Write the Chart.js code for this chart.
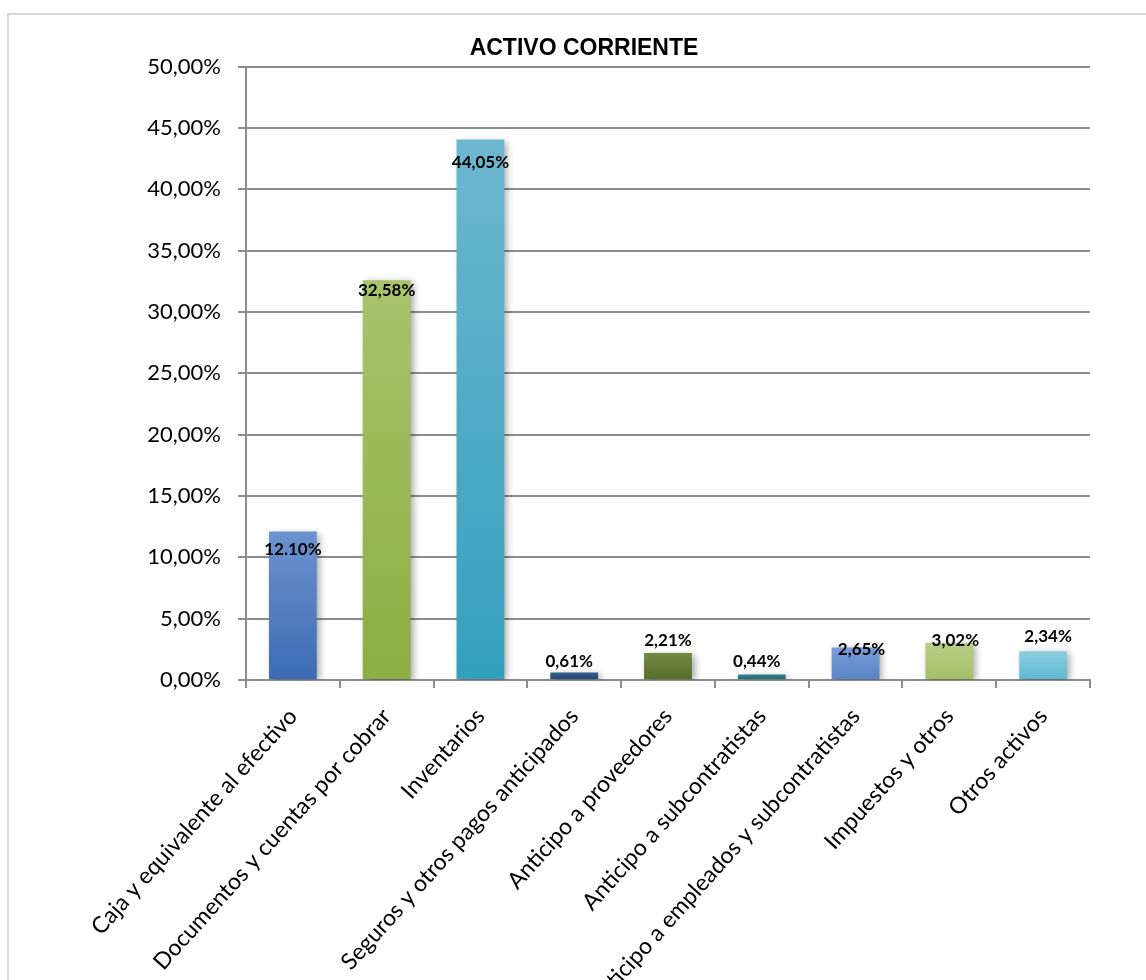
<!DOCTYPE html>
<html lang="es">
<head>
  <meta charset="UTF-8">
  <title>Activo corriente</title>
  <script src="https://cdn.jsdelivr.net/npm/chart.js"></script>
  <style>
    body {
      margin: 0;
      background: #fff;
    }
    #chartContainer {
      width: 1146px;
      height: 980px;
    }
  </style>
</head>
<body>

  <div id="chartContainer">
    <canvas id="barChart"></canvas>
  </div>

  <script>
    const categories = [
      'Caja y equivalente al efectivo',
      'Documentos y cuentas por cobrar',
      'Inventarios',
      'Seguros y otros pagos anticipados',
      'Anticipo a proveedores',
      'Anticipo a subcontratistas',
      'Anticipo a empleados y subcontratistas',
      'Impuestos y otros',
      'Otros activos'
    ];
    const values = [12.10, 32.58, 44.05, 0.61, 2.21, 0.44, 2.65, 3.02, 2.34];
    const valueLabels = ['12.10%', '32,58%', '44,05%', '0,61%', '2,21%', '0,44%', '2,65%', '3,02%', '2,34%'];
    const yTicks = [0, 5, 10, 15, 20, 25, 30, 35, 40, 45, 50];

    // colores de cada barra: [arriba, abajo]
    const barColors = [
      ['#6d92cf', '#3c6bb3'],
      ['#a8c36c', '#8cae42'],
      ['#6db7cf', '#34a0bd'],
      ['#335f92', '#254770'],
      ['#728a40', '#546c25'],
      ['#2f808e', '#226874'],
      ['#779cd6', '#5b84c6'],
      ['#b7ce85', '#a5c069'],
      ['#8ccfe0', '#5db8d1']
    ];
    // desplazamiento de cada etiqueta respecto al tope de la barra
    const labelDx = [0, 0, 0, -5, 0, -5, 6, 6, 5];
    const labelDy = [18, 10, 23, -11, -12, -13, 2, -2, -15];

    const fontLabels = 'Lato, "Open Sans", sans-serif';

    const frame = {
      id: 'frame',
      beforeDraw(chart) {
        const ctx = chart.ctx;
        ctx.save();
        ctx.strokeStyle = '#d9d9d9';
        ctx.lineWidth = 2;
        ctx.beginPath();
        ctx.moveTo(8, chart.height + 5);
        ctx.lineTo(8, 14);
        ctx.lineTo(chart.width + 5, 14);
        ctx.stroke();
        ctx.restore();
      }
    };

    const barShadow = {
      id: 'barShadow',
      beforeDatasetsDraw(chart) {
        const ctx = chart.ctx;
        ctx.save();
        ctx.shadowColor = 'rgba(0, 0, 0, 0.35)';
        ctx.shadowBlur = 7;
        ctx.shadowOffsetX = 3;
        ctx.shadowOffsetY = 2;
      },
      afterDatasetsDraw(chart) {
        chart.ctx.restore();
      }
    };

    const valueText = {
      id: 'valueText',
      afterDatasetsDraw(chart) {
        const ctx = chart.ctx;
        const bars = chart.getDatasetMeta(0).data;
        ctx.save();
        ctx.font = 'bold 17px ' + fontLabels;
        ctx.fillStyle = '#000';
        ctx.textAlign = 'center';
        ctx.textBaseline = 'middle';
        bars.forEach((bar, i) => {
          ctx.fillText(valueLabels[i], bar.x + labelDx[i], bar.y + labelDy[i]);
        });
        ctx.restore();
      }
    };

    function barGradient(context) {
      const chart = context.chart;
      const i = context.dataIndex;
      if (!chart.chartArea || i === undefined) return barColors[i || 0][1];
      const y = chart.scales.y;
      const top = y.getPixelForValue(values[i]);
      const bottom = y.getPixelForValue(0);
      const g = chart.ctx.createLinearGradient(0, top, 0, bottom);
      g.addColorStop(0, barColors[i][0]);
      g.addColorStop(1, barColors[i][1]);
      return g;
    }

    new Chart(document.getElementById('barChart'), {
      type: 'bar',
      data: {
        labels: categories,
        datasets: [{
          data: values,
          backgroundColor: barGradient,
          borderWidth: 0,
          barPercentage: 0.51,
          categoryPercentage: 1
        }]
      },
      options: {
        responsive: true,
        maintainAspectRatio: false,
        animation: false,
        layout: {
          padding: { left: 78, right: 56, top: 0, bottom: 0 }
        },
        plugins: {
          legend: { display: false },
          tooltip: { enabled: false },
          title: {
            display: true,
            text: 'ACTIVO CORRIENTE',
            color: '#000',
            font: { family: '"Liberation Sans", Arial, sans-serif', size: 23, weight: 'bold' },
            padding: { top: 35, bottom: 4 }
          }
        },
        scales: {
          x: {
            afterFit(scale) { scale.height = 300; },
            grid: {
              offset: true,
              drawOnChartArea: false,
              drawTicks: true,
              tickLength: 8,
              color: '#8c8c8c',
              lineWidth: 2
            },
            border: { display: true, color: '#8c8c8c', width: 2 },
            ticks: {
              autoSkip: false,
              minRotation: 48,
              maxRotation: 48,
              padding: 15,
              color: '#000',
              font: { family: fontLabels, size: 23 }
            }
          },
          y: {
            min: 0,
            max: 50,
            afterFit(scale) { scale.width = 168; },
            afterBuildTicks(scale) {
              scale.ticks = yTicks.map(v => ({ value: v }));
            },
            grid: {
              color: '#8c8c8c',
              lineWidth: 2,
              tickLength: 8
            },
            border: { display: true, color: '#8c8c8c', width: 2 },
            ticks: {
              padding: 17,
              color: '#000',
              font: { family: fontLabels, size: 22 },
              callback: v => v.toFixed(2).replace('.', ',') + '%'
            }
          }
        }
      },
      plugins: [frame, barShadow, valueText]
    });
  </script>

</body>
</html>
